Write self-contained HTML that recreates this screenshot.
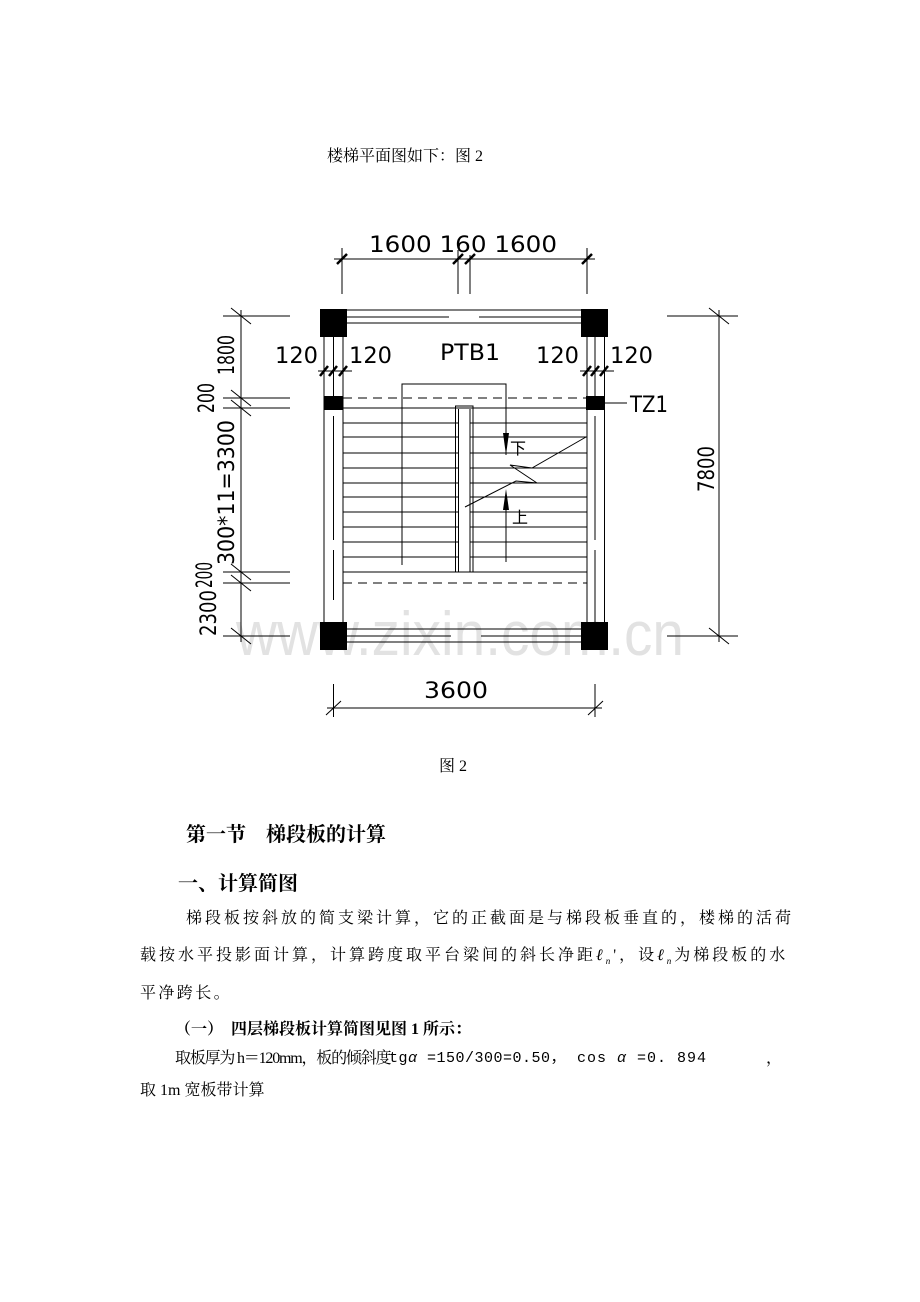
<!DOCTYPE html>
<html><head><meta charset="utf-8"><style>
body{margin:0;background:#fff;}
#p{position:relative;width:920px;height:1302px;overflow:hidden;font-family:"Liberation Serif","Noto Serif CJK SC",serif;color:#000;}
.t{position:absolute;white-space:nowrap;font-size:16px;line-height:1;}
.b{font-weight:bold;}
.m{font-family:"Liberation Mono","Noto Sans CJK SC",monospace;}
svg{position:absolute;left:0;top:0;}
</style></head><body><div id="p">
<svg width="920" height="1302" viewBox="0 0 920 1302" font-family="DejaVu Sans, Liberation Sans, sans-serif">
<text x="460" y="655" font-size="62" fill="#e2e2e2" text-anchor="middle" font-family="Liberation Sans, sans-serif" textLength="448" lengthAdjust="spacingAndGlyphs">www.zixin.com.cn</text>
<g stroke="#000" stroke-width="1" fill="none">
<line x1="334" y1="259" x2="595" y2="259"/>
<line x1="342" y1="248" x2="342" y2="294"/><line x1="458" y1="250" x2="458" y2="294"/><line x1="470" y1="255" x2="470" y2="294"/><line x1="587" y1="248" x2="587" y2="294"/>
<g stroke-width="2.5"><line x1="337" y1="264" x2="347" y2="254"/><line x1="453" y1="264" x2="463" y2="254"/><line x1="465" y1="264" x2="475" y2="254"/><line x1="582" y1="264" x2="592" y2="254"/></g>
<line x1="347" y1="310" x2="582" y2="310"/><line x1="347" y1="317" x2="449" y2="317"/><line x1="479" y1="317" x2="582" y2="317"/><line x1="347" y1="323" x2="582" y2="323"/>
<line x1="347" y1="629" x2="582" y2="629"/><line x1="347" y1="636" x2="451" y2="636"/><line x1="481" y1="636" x2="582" y2="636"/><line x1="347" y1="642" x2="582" y2="642"/>
<line x1="324" y1="337" x2="324" y2="622"/><line x1="333.5" y1="337" x2="333.5" y2="396"/><line x1="333.5" y1="416" x2="333.5" y2="540"/><line x1="333.5" y1="550" x2="333.5" y2="600"/><line x1="343" y1="337" x2="343" y2="622"/>
<line x1="587" y1="337" x2="587" y2="622"/><line x1="595" y1="337" x2="595" y2="396"/><line x1="595" y1="416" x2="595" y2="540"/><line x1="595" y1="550" x2="595" y2="622"/><line x1="604.5" y1="337" x2="604.5" y2="622"/>
<line x1="318" y1="371" x2="352" y2="371"/><line x1="580" y1="371" x2="614" y2="371"/>
<g stroke-width="2.5"><line x1="320" y1="376" x2="328" y2="366"/><line x1="329" y1="376" x2="337" y2="366"/><line x1="339" y1="376" x2="347" y2="366"/><line x1="583" y1="376" x2="591" y2="366"/><line x1="591" y1="376" x2="599" y2="366"/><line x1="600" y1="376" x2="608" y2="366"/></g>
<line x1="343" y1="398" x2="586" y2="398" stroke-dasharray="9,6"/>
<line x1="343" y1="408" x2="587" y2="408"/>
<line x1="343" y1="572" x2="587" y2="572"/>
<line x1="343" y1="583" x2="587" y2="583" stroke-dasharray="9,6"/>
<line x1="604" y1="403" x2="627" y2="403"/>
<path d="M343 423H458M470 423H587M343 437H458M470 437H587M343 453H458M470 453H587M343 468H458M470 468H587M343 483H458M470 483H587M343 497H458M470 497H587M343 512H458M470 512H587M343 527H458M470 527H587M343 542H458M470 542H587M343 557H458M470 557H587"/>
<rect x="455.5" y="406" width="17.5" height="166"/>
<line x1="458.5" y1="409" x2="458.5" y2="572"/><line x1="470" y1="409" x2="470" y2="572"/>
<path d="M402 565V384H506V455"/>
<line x1="506" y1="562" x2="506" y2="510"/>
<polyline points="586,437 532,468 510,465 537,483 516,481 465,507"/>
<line x1="241" y1="310" x2="241" y2="642"/>
<path d="M223 316H290M223 398H290M223 408H290M223 572H290M223 583H290M223 636H290"/>
<path d="M231 308L251 324M231 390L251 406M231 400L251 416M231 564L251 580M231 575L251 591M231 628L251 644"/>
<line x1="719" y1="310" x2="719" y2="642"/>
<path d="M667 316H738M667 636H738M709 308L729 324M709 628L729 644"/>
<line x1="327" y1="708" x2="602" y2="708"/>
<path d="M333.5 684V717M595 684V717M326 715L341 701M588 715L603 701"/>
</g>
<g fill="#000">
<rect x="320" y="309" width="27" height="28"/><rect x="581" y="309" width="27" height="28"/>
<rect x="320" y="622" width="27" height="28"/><rect x="581" y="622" width="27" height="28"/>
<rect x="324" y="396" width="19" height="14"/><rect x="586" y="396" width="19" height="14"/>
<polygon points="503,433 509,433 506,455"/>
<polygon points="503,510 509,510 506,489"/>
</g>
<g font-size="22" fill="#000" stroke="none" font-weight="normal">
<text x="369" y="252" textLength="188" lengthAdjust="spacingAndGlyphs">1600 160 1600</text>
<text x="275" y="363" textLength="43" lengthAdjust="spacingAndGlyphs">120</text><text x="349" y="363" textLength="43" lengthAdjust="spacingAndGlyphs">120</text>
<text x="440" y="360" textLength="60" lengthAdjust="spacingAndGlyphs">PTB1</text>
<text x="536" y="363" textLength="43" lengthAdjust="spacingAndGlyphs">120</text><text x="610" y="363" textLength="43" lengthAdjust="spacingAndGlyphs">120</text>
<text x="630" y="412" textLength="38" lengthAdjust="spacingAndGlyphs">TZ1</text>
<text x="424" y="698" textLength="64" lengthAdjust="spacingAndGlyphs">3600</text>
<text transform="translate(234,375) rotate(-90)" textLength="40" lengthAdjust="spacingAndGlyphs">1800</text>
<text transform="translate(214,413) rotate(-90)" textLength="30" lengthAdjust="spacingAndGlyphs">200</text>
<text transform="translate(234,565) rotate(-90)" textLength="145" lengthAdjust="spacingAndGlyphs">300*11=3300</text>
<text transform="translate(212,588) rotate(-90)" textLength="26" lengthAdjust="spacingAndGlyphs">200</text>
<text transform="translate(216,636) rotate(-90)" textLength="46" lengthAdjust="spacingAndGlyphs">2300</text>
<text transform="translate(714,492) rotate(-90)" textLength="46" lengthAdjust="spacingAndGlyphs">7800</text>
</g>
<g font-size="16" fill="#000" font-family="Noto Sans CJK SC, sans-serif">
<text x="510" y="454">下</text><text x="512" y="523">上</text>
</g>
</svg>
<div class="t" style="left:327px;top:149px;">楼梯平面图如下：图 2</div>
<div class="t" style="left:439px;top:759px;">图 2</div>
<div class="t b" style="left:186px;top:825px;font-size:20px;">第一节　梯段板的计算</div>
<div class="t b" style="left:178px;top:874px;font-size:20px;">一、计算简图</div>
<div class="t" style="left:186px;top:911px;letter-spacing:3px;">梯段板按斜放的简支梁计算，它的正截面是与梯段板垂直的，楼梯的活荷</div>
<div class="t" style="left:140px;top:948px;letter-spacing:3px;">载按水平投影面计算，计算跨度取平台梁间的斜长净距<i>ℓ<sub style="font-size:9px">n</sub></i>'，设<i>ℓ<sub style="font-size:9px">n</sub></i>为梯段板的水</div>
<div class="t" style="left:140px;top:986px;letter-spacing:2.4px;">平净跨长。</div>
<div class="t b" style="left:175px;top:1022px;">（一）　四层梯段板计算简图见图 1 所示：</div>
<div class="t" style="left:175px;top:1051px;letter-spacing:-1.2px;">取板厚为 h＝120mm，板的倾斜度</div>
<div class="t m" style="left:389px;top:1051px;font-size:15px;letter-spacing:0.5px;">tg<i>α</i> =150/300=0.50，</div>
<div class="t m" style="left:577px;top:1051px;font-size:15px;letter-spacing:1px;">cos <i>α</i> =0. 894</div>
<div class="t" style="left:766px;top:1051px;">，</div>
<div class="t" style="left:140px;top:1083px;">取 1m 宽板带计算</div>
</div></body></html>
